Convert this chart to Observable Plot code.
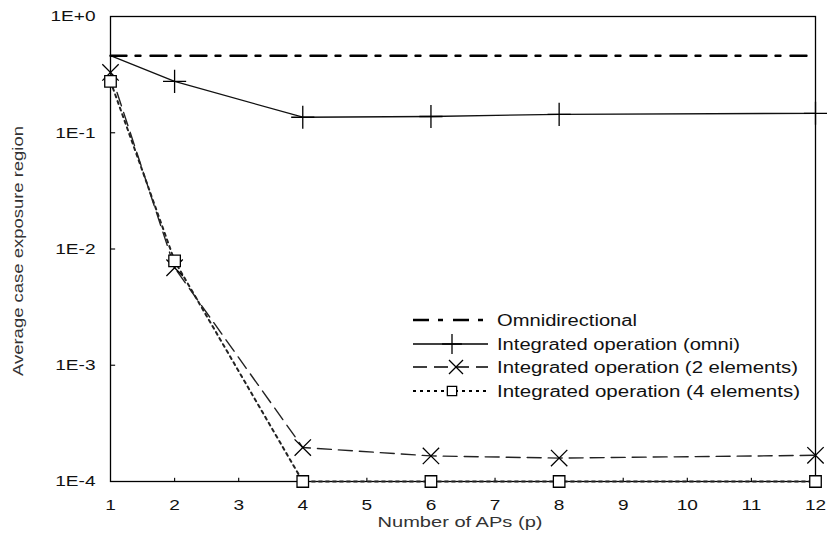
<!DOCTYPE html>
<html><head><meta charset="utf-8">
<script src="https://cdn.jsdelivr.net/npm/d3@7"></script>
<script src="https://cdn.jsdelivr.net/npm/@observablehq/plot@0.6"></script>
<style>
body{margin:0;background:#fff;}
#wrap{position:relative;width:827px;height:534px;font-family:"Liberation Sans",Arial,sans-serif;}
</style></head>
<body><div id="wrap"></div>
<script>
const apCounts = [1, 2, 4, 6, 8, 12];
const omniValues = [0.46, 0.46, 0.46, 0.46, 0.46, 0.46];
const intOmniValues = [0.46, 0.277, 0.136, 0.138, 0.144, 0.147];
const int2Values = [0.33, 0.0069, 0.000196, 0.000166, 0.000159, 0.000168];
const int4Values = [0.277, 0.0079, 0.0001, 0.0001, 0.0001, 0.0001];
const seriesNames = ["Omnidirectional", "Integrated operation (omni)", "Integrated operation (2 elements)", "Integrated operation (4 elements)"];
const xTicks = [1,2,3,4,5,6,7,8,9,10,11,12];
const yTicks = [1e-4, 1e-3, 1e-2, 1e-1, 1];
const yTickLabels = ["1E-4", "1E-3", "1E-2", "1E-1", "1E+0"];

const mk = (vals) => apCounts.map((x, i) => ({x, y: vals[i]}));
const omni = mk(omniValues), iomni = mk(intOmniValues), i2 = mk(int2Values), i4 = mk(int4Values);

const styles = [
  {dash: "16,9,5,10", width: 2.4, symbol: null},
  {dash: null, width: 1.3, symbol: "plus"},
  {dash: "14,7", width: 1.4, symbol: "times"},
  {dash: "3,4", width: 2, symbol: "square"}
];

const chart = Plot.plot({
  width: 827, height: 534,
  marginLeft: 110, marginRight: 12, marginTop: 16, marginBottom: 53,
  style: {fontFamily: "Liberation Sans, Arial, sans-serif", fontSize: "15px", color: "#111"},
  x: {domain: [1, 12], label: null},
  y: {type: "log", domain: [1e-4, 1], label: null},
  marks: [
    Plot.axisX({ticks: xTicks, tickSize: 0, tickPadding: 18, tickFormat: d => String(d), label: null}),
    Plot.ruleX(xTicks.slice(1, -1), {x: d => d, y1: 1e-4, y2: 1.065e-4, strokeWidth: 1.2}),
    Plot.axisY({ticks: yTicks, tickSize: 0, tickPadding: 15, tickFormat: d => yTickLabels[yTicks.indexOf(d)], label: null}),
    Plot.ruleY(yTicks.slice(1, -1), {y: d => d, x1: 1, x2: 1.08, strokeWidth: 1.2}),
    Plot.frame({stroke: "#000", strokeWidth: 1.3}),
    Plot.line(i4, {x: "x", y: "y", stroke: "#222", strokeWidth: styles[3].width, strokeDasharray: styles[3].dash}),
    Plot.line(i2, {x: "x", y: "y", stroke: "#222", strokeWidth: styles[2].width, strokeDasharray: styles[2].dash}),
    Plot.line(iomni, {x: "x", y: "y", stroke: "#111", strokeWidth: styles[1].width}),
    Plot.line(omni, {x: "x", y: "y", stroke: "#000", strokeWidth: styles[0].width, strokeDasharray: styles[0].dash}),
    Plot.dot(iomni.slice(1), {x: "x", y: "y", symbol: "plus", r: 7.5, stroke: "#000", strokeWidth: 1.3}),
    Plot.dot(i2, {x: "x", y: "y", symbol: "times", r: 7.5, stroke: "#000", strokeWidth: 1.3}),
    Plot.dot(i4, {x: "x", y: "y", symbol: "square", r: 6.5, stroke: "#000", fill: "#fff", strokeWidth: 1.3})
  ]
});
document.getElementById("wrap").appendChild(chart);

// horizontally widen the tick labels (reference type is wide)
d3.select(chart).selectAll("g[aria-label$='tick label'] text").each(function() {
  const w = this.getComputedTextLength();
  if (w > 0) { this.setAttribute("textLength", w * 1.27); this.setAttribute("lengthAdjust", "spacingAndGlyphs"); }
});

const svg = d3.select(chart);
svg.append("text").attr("x", 460).attr("y", 527).attr("text-anchor", "middle")
  .attr("font-size", 15).attr("fill", "#333").attr("textLength", 165).attr("lengthAdjust", "spacingAndGlyphs").text("Number of APs (p)");
svg.append("text").attr("transform", "translate(23,251) rotate(-90)").attr("text-anchor", "middle")
  .attr("font-size", 15).attr("fill", "#333").attr("textLength", 250).attr("lengthAdjust", "spacingAndGlyphs").text("Average case exposure region");

const lg = svg.append("g").attr("font-size", 16).attr("text-anchor", "start").attr("fill", "#111");
const rowsY = [320, 344, 367, 391];
const legendLengths = [140, 243, 301, 303];
seriesNames.forEach((name, i) => {
  const s = styles[i];
  const yy = rowsY[i];
  lg.append("line").attr("x1", 413).attr("x2", 488).attr("y1", yy).attr("y2", yy)
    .attr("stroke", "#000").attr("stroke-width", s.width)
    .attr("stroke-dasharray", s.dash);
  if (s.symbol) {
    const sym = {plus: d3.symbolPlus, times: d3.symbolTimes, square: d3.symbolSquare2}[s.symbol];
    const sz = s.symbol === "square" ? 110 : 130;
    lg.append("path").attr("transform", `translate(${s.symbol === "times" ? 456 : 452},${yy})`)
      .attr("d", d3.symbol(sym, sz)())
      .attr("stroke", "#000").attr("fill", s.symbol === "square" ? "#fff" : "none").attr("stroke-width", 1.3);
  }
  lg.append("text").attr("x", 497).attr("y", yy).attr("dy", "0.36em")
    .attr("textLength", legendLengths[i]).attr("lengthAdjust", "spacingAndGlyphs").text(name);
});
</script></body></html>
